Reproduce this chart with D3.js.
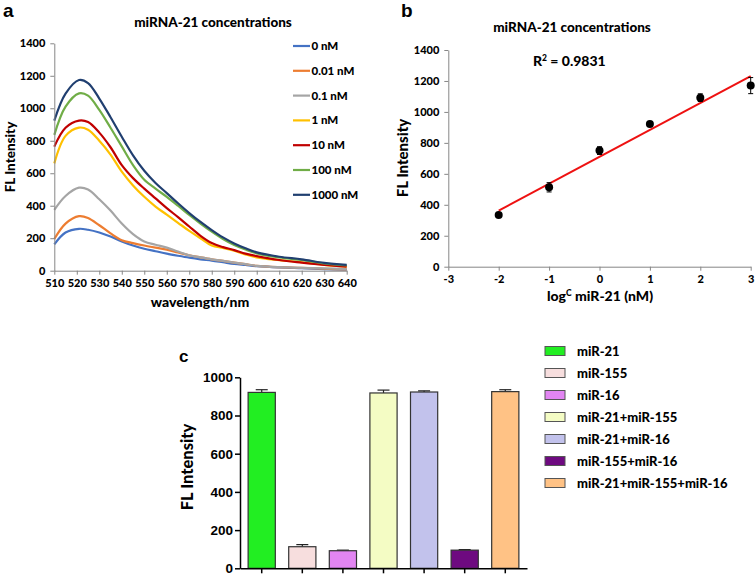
<!DOCTYPE html>
<html><head><meta charset="utf-8">
<script src="https://cdn.jsdelivr.net/npm/d3@7"></script>
<style>body{margin:0;background:#fff}svg{display:block}</style>
</head><body>
<svg id="c" width="756" height="576"></svg>
<script>
// ---------- Panel a data ----------
const wavelengths = [510,515,521,525,530,535,540,545,550,555,560,565,570,575,580,585,590,595,600,610,620,630,640];
const seriesNames = ["0 nM","0.01 nM","0.1 nM","1 nM","10 nM","100 nM","1000 nM"];
const seriesColors = ["#4472c4","#ed7d31","#a5a5a5","#ffc000","#c00000","#70ad47","#203f70"];
const s0    = [162,235,258,252,235,210,180,155,135,120,105,92,80,70,62,52,42,35,28,20,15,10,6];
const s001  = [195,290,336,325,280,230,188,170,155,142,130,112,95,82,70,60,50,40,30,22,18,12,8];
const s01   = [374,460,511,500,440,370,290,225,180,160,142,118,95,82,70,60,50,40,30,22,18,14,10];
const s1    = [661,830,881,868,800,715,610,525,455,395,345,295,245,200,155,140,123,100,82,65,52,36,25];
const s10   = [764,880,924,915,850,760,650,570,505,445,385,330,272,215,170,145,127,105,90,66,50,36,25];
const s100  = [836,1010,1092,1078,990,880,765,650,560,505,455,400,343,290,240,195,158,130,107,82,66,45,32];
const s1000 = [924,1090,1174,1155,1060,945,825,710,615,540,478,415,355,300,250,205,168,138,113,86,70,48,36];
const seriesValues = [s0,s001,s01,s1,s10,s100,s1000];
const aXTicks = [510,520,530,540,550,560,570,580,590,600,610,620,630,640];
const aYTicks = [0,200,400,600,800,1000,1200,1400];

// ---------- Panel b data ----------
const logConc = [-2,-1,0,1,2,3];
const meanFL  = [334,513,750,922,1092,1170];
const errFL   = [12,30,25,15,25,52];
const bXTicks = [-3,-2,-1,0,1,2,3];
const bYTicks = [0,200,400,600,800,1000,1200,1400];

// ---------- Panel c data ----------
const groups = ["miR-21","miR-155","miR-16","miR-21+miR-155","miR-21+miR-16","miR-155+miR-16","miR-21+miR-155+miR-16"];
const groupValues = [921,113,92,918,923,95,925];
const groupErrors = [14,11,3,15,6,3,10];
const groupColors = ["#22ee22","#f7dede","#e285f2","#f4fcc4","#c2c2ec","#6e0a80","#ffc285"];
const cYTicks = [0,200,400,600,800,1000];

const svg = d3.select("#c");
const excelFont = "Lato, 'Open Sans', sans-serif";
const prismFont = "'Liberation Sans', Arial, sans-serif";
const axisGrey = "#868686";
const plain = d => String(d);

function styleAxis(g, color, width, font, size){
  g.select(".domain").attr("stroke", color).attr("stroke-width", width);
  g.selectAll(".tick line").attr("stroke", color).attr("stroke-width", width);
  g.selectAll(".tick text").attr("fill","#000").attr("font-family", font)
   .attr("font-size", size).attr("font-weight","900");
}

// ================= Panel a =================
{
  const x = d3.scaleLinear().domain([510,640]).range([54.3,346.7]);
  const y = d3.scaleLinear().domain([0,1400]).range([270.7,43.3]);
  const g = svg.append("g");
  const line = d3.line().x((d,i)=>x(wavelengths[i])).y(d=>y(d)).curve(d3.curveCatmullRom.alpha(0.5));
  seriesValues.forEach((vals,k)=>{
    g.append("path").attr("d", line(vals)).attr("fill","none")
     .attr("stroke", seriesColors[k]).attr("stroke-width",2.2);
  });
  const xa = g.append("g").attr("transform",`translate(0,${y(0)})`)
    .call(d3.axisBottom(x).tickValues(aXTicks).tickFormat(plain).tickSize(4).tickSizeOuter(0).tickPadding(5));
  styleAxis(xa, axisGrey, 1, excelFont, 11);
  const ya = g.append("g").attr("transform",`translate(${x(510)},0)`)
    .call(d3.axisLeft(y).tickValues(aYTicks).tickFormat(plain).tickSize(4).tickSizeOuter(0).tickPadding(5));
  styleAxis(ya, axisGrey, 1, excelFont, 11);
  g.append("text").attr("x",213).attr("y",27).attr("text-anchor","middle")
   .attr("font-family",excelFont).attr("font-weight","900").attr("font-size",13.5).text("miRNA-21 concentrations");
  g.append("text").attr("x",200).attr("y",307).attr("text-anchor","middle")
   .attr("font-family",excelFont).attr("font-weight","900").attr("font-size",14).text("wavelength/nm");
  g.append("text").attr("transform","translate(15,157) rotate(-90)").attr("text-anchor","middle")
   .attr("font-family",excelFont).attr("font-weight","900").attr("font-size",13.5).text("FL Intensity");
  g.append("text").attr("x",3).attr("y",17).attr("font-family",prismFont).attr("font-weight","bold")
   .attr("font-size",19).text("a");
  // legend
  seriesNames.forEach((n,k)=>{
    const ly = 46 + k*24.8;
    g.append("line").attr("x1",293).attr("x2",310).attr("y1",ly).attr("y2",ly)
     .attr("stroke",seriesColors[k]).attr("stroke-width",2.2);
    g.append("text").attr("x",311.5).attr("y",ly+4).attr("font-family",excelFont)
     .attr("font-weight","900").attr("font-size",11.5).text(n);
  });
}

// ================= Panel b =================
{
  const x = d3.scaleLinear().domain([-3,3]).range([448.3,750.7]);
  const y = d3.scaleLinear().domain([0,1400]).range([266.7,50]);
  const g = svg.append("g");
  const xa = g.append("g").attr("transform",`translate(0,${y(0)})`)
    .call(d3.axisBottom(x).tickValues(bXTicks).tickFormat(plain).tickSize(4).tickSizeOuter(0).tickPadding(5));
  styleAxis(xa, axisGrey, 1, excelFont, 11);
  const ya = g.append("g").attr("transform",`translate(${x(-3)},0)`)
    .call(d3.axisLeft(y).tickValues(bYTicks).tickFormat(plain).tickSize(4).tickSizeOuter(0).tickPadding(5));
  styleAxis(ya, axisGrey, 1, excelFont, 11);
  // linear regression
  const mx = d3.mean(logConc), my = d3.mean(meanFL);
  const slope = d3.sum(logConc.map((v,i)=>(v-mx)*(meanFL[i]-my))) / d3.sum(logConc.map(v=>(v-mx)*(v-mx)));
  const icpt = my - slope*mx;
  const x0 = d3.min(logConc), x1 = d3.max(logConc);
  g.append("line").attr("x1",x(x0)).attr("y1",y(icpt+slope*x0)).attr("x2",x(x1)).attr("y2",y(icpt+slope*x1))
   .attr("stroke","#ee1111").attr("stroke-width",2);
  logConc.forEach((c,i)=>{
    const cx = x(c);
    g.append("line").attr("x1",cx).attr("x2",cx).attr("y1",y(meanFL[i]-errFL[i])).attr("y2",y(meanFL[i]+errFL[i]))
     .attr("stroke","#000").attr("stroke-width",1);
    [meanFL[i]-errFL[i], meanFL[i]+errFL[i]].forEach(v=>{
      g.append("line").attr("x1",cx-2.5).attr("x2",cx+2.5).attr("y1",y(v)).attr("y2",y(v))
       .attr("stroke","#000").attr("stroke-width",1);
    });
    g.append("circle").attr("cx",cx).attr("cy",y(meanFL[i])).attr("r",4).attr("fill","#000");
  });
  g.append("text").attr("x",572).attr("y",32).attr("text-anchor","middle")
   .attr("font-family",excelFont).attr("font-weight","900").attr("font-size",13.5).text("miRNA-21 concentrations");
  const r2 = g.append("text").attr("x",533).attr("y",66).attr("font-family",excelFont)
   .attr("font-weight","900").attr("font-size",14);
  r2.append("tspan").text("R");
  r2.append("tspan").attr("dy",-5).attr("font-size",8.5).text("2");
  r2.append("tspan").attr("dy",5).text(" = 0.9831");
  const xl = g.append("text").attr("x",600).attr("y",301).attr("text-anchor","middle")
   .attr("font-family",excelFont).attr("font-weight","900").attr("font-size",14);
  xl.append("tspan").text("log");
  xl.append("tspan").attr("dy",-5).attr("font-size",8.5).text("C");
  xl.append("tspan").attr("dy",5).text(" miR-21 (nM)");
  g.append("text").attr("transform","translate(408,158) rotate(-90)").attr("text-anchor","middle")
   .attr("font-family",excelFont).attr("font-weight","900").attr("font-size",15).text("FL Intensity");
  g.append("text").attr("x",401).attr("y",17).attr("font-family",prismFont).attr("font-weight","bold")
   .attr("font-size",19).text("b");
}

// ================= Panel c =================
{
  const x = d3.scaleBand().domain(groups).range([240,527]).paddingInner(0.33).paddingOuter(0.2);
  const y = d3.scaleLinear().domain([0,1000]).range([568.3,377.3]);
  const g = svg.append("g");
  groups.forEach((gr,i)=>{
    const bx = x(gr), bw = x.bandwidth(), cx = bx + bw/2;
    g.append("line").attr("x1",cx).attr("x2",cx).attr("y1",y(groupValues[i])).attr("y2",y(groupValues[i]+groupErrors[i]))
     .attr("stroke","#222").attr("stroke-width",1.2);
    g.append("line").attr("x1",cx-6).attr("x2",cx+6).attr("y1",y(groupValues[i]+groupErrors[i])).attr("y2",y(groupValues[i]+groupErrors[i]))
     .attr("stroke","#222").attr("stroke-width",1.2);
    g.append("rect").attr("x",bx).attr("y",y(groupValues[i])).attr("width",bw).attr("height",y(0)-y(groupValues[i]))
     .attr("fill",groupColors[i]).attr("stroke","#333").attr("stroke-width",1.2);
  });
  const xa = g.append("g").attr("transform",`translate(0,${y(0)})`)
    .call(d3.axisBottom(x).tickSize(5).tickSizeOuter(0).tickFormat(""));
  styleAxis(xa, "#000", 1.5, prismFont, 13);
  const ya = g.append("g").attr("transform",`translate(240,0)`)
    .call(d3.axisLeft(y).tickValues(cYTicks).tickFormat(plain).tickSize(5).tickSizeOuter(0).tickPadding(2));
  styleAxis(ya, "#000", 1.5, prismFont, 13.5);
  ya.selectAll(".tick text").attr("font-weight","bold");
  g.append("text").attr("transform","translate(193,467) rotate(-90)").attr("text-anchor","middle")
   .attr("font-family",excelFont).attr("font-weight","900").attr("font-size",16.5).text("FL Intensity");
  g.append("text").attr("x",179).attr("y",362).attr("font-family",prismFont).attr("font-weight","bold")
   .attr("font-size",17).text("c");
  groups.forEach((gr,i)=>{
    const ly = 351 + i*22;
    g.append("rect").attr("x",545).attr("y",ly-4.5).attr("width",20).attr("height",9)
     .attr("fill",groupColors[i]).attr("stroke","#555").attr("stroke-width",1);
    g.append("text").attr("x",577).attr("y",ly+4.5).attr("font-family",excelFont)
     .attr("font-weight","900").attr("font-size",13).text(gr);
  });
}
</script>
</body></html>
